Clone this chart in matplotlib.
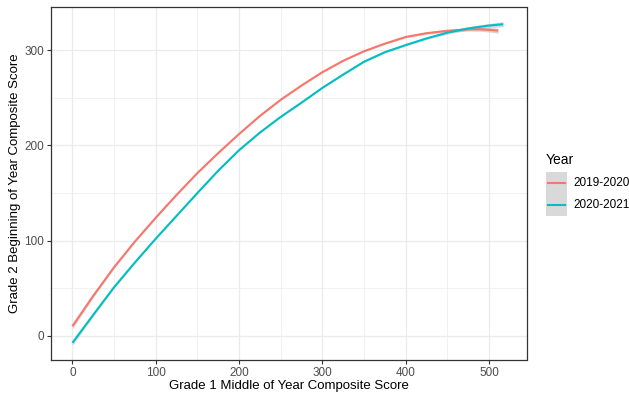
import matplotlib
matplotlib.use("Agg")
import matplotlib.pyplot as plt
import numpy as np
from matplotlib.patches import Rectangle
from matplotlib.lines import Line2D

plt.rcParams['font.family'] = ['Liberation Sans', 'DejaVu Sans']

years = ["2019-2020", "2020-2021"]
colors = ["#F8766D", "#00BFC4"]

x_2019 = [0, 25, 50, 75, 100, 125, 150, 175, 200, 225, 250, 275, 300, 325, 350, 375, 400, 425, 450, 475, 490, 500, 511]
y_2019 = [10, 42, 72, 99, 124, 148, 171, 192, 212, 231, 248, 263, 277, 289, 299, 307, 314, 318, 320.5, 322, 322, 321.5, 320.7]
se_2019 = [2.5, 1.8, 1.2, 0.8, 0.6, 0.5, 0.5, 0.5, 0.5, 0.5, 0.5, 0.5, 0.5, 0.6, 0.7, 0.8, 1.0, 1.2, 1.5, 1.8, 2.0, 2.3, 2.6]
x_2020 = [0, 25, 50, 75, 100, 125, 150, 175, 200, 225, 250, 275, 300, 325, 350, 375, 400, 425, 450, 475, 500, 517]
y_2020 = [-7.5, 22, 51, 77, 102, 126, 150, 173.5, 195, 213.5, 230, 245, 260.5, 274.5, 288, 298, 305.5, 312.5, 318.5, 323, 326, 327.4]
se_2020 = [2.5, 1.8, 1.2, 0.8, 0.6, 0.5, 0.5, 0.5, 0.5, 0.5, 0.5, 0.5, 0.5, 0.6, 0.7, 0.8, 1.0, 1.2, 1.5, 1.8, 2.2, 2.6]

xticks = [0, 100, 200, 300, 400, 500]
yticks = [0, 100, 200, 300]

W, H = 629, 396
fig = plt.figure(figsize=(W/100, H/100), dpi=100)
l, r, t, b = 51, 526.5, 7, 360
ax = fig.add_axes([l/W, 1-b/H, (r-l)/W, (b-t)/H])

series = [(x_2019, y_2019, se_2019, colors[0]), (x_2020, y_2020, se_2020, colors[1])]
for xs, ys, se, c in series:
    ys_a = np.array(ys); se_a = np.array(se)
    ax.fill_between(xs, ys_a - se_a, ys_a + se_a, color='#999999', alpha=0.4, lw=0, zorder=2)
for xs, ys, se, c in series:
    ax.plot(xs, ys, color=c, lw=1.5, solid_capstyle='butt', solid_joinstyle='round', zorder=3)

ax.set_xlim(-25.7, 545)
ax.set_ylim(-25.5, 345.5)
ax.set_xticks(xticks)
ax.set_yticks(yticks)
ax.set_xticks([50, 150, 250, 350, 450], minor=True)
ax.set_yticks([50, 150, 250], minor=True)
ax.grid(True, which='major', color='#EBEBEB', lw=0.9, zorder=0)
ax.grid(True, which='minor', color='#EBEBEB', lw=0.5, zorder=0)
ax.set_axisbelow(True)
for s in ax.spines.values():
    s.set_color('#333333')
    s.set_linewidth(0.9)
ax.tick_params(which='major', length=3, width=0.8, color='#333333', labelcolor='#4D4D4D', labelsize=8.5, pad=2)
ax.tick_params(which='minor', length=0)
ax.set_xlabel("Grade 1 Middle of Year Composite Score", fontsize=9.5, color='black', labelpad=1)
ax.set_ylabel("Grade 2 Beginning of Year Composite Score", fontsize=9.5, color='black', labelpad=2)

# legend
fig.text(546/W, 1-160/H, "Year", fontsize=10, va='center', ha='left')
for i, (lab, c) in enumerate(zip(years, colors)):
    yc = 183 + i*22
    fig.patches.append(Rectangle((546/W, 1-(yc+11)/H), 21/W, 22/H, transform=fig.transFigure,
                                 facecolor='#D9D9D9', edgecolor='none'))
    fig.lines.append(Line2D([548/W, 565/W], [1-yc/H, 1-yc/H], transform=fig.transFigure, color=c, lw=1.5))
    fig.text(573/W, 1-yc/H, lab, fontsize=8.5, va='center', ha='left', color='black')

fig.savefig("out.png", dpi=100)
